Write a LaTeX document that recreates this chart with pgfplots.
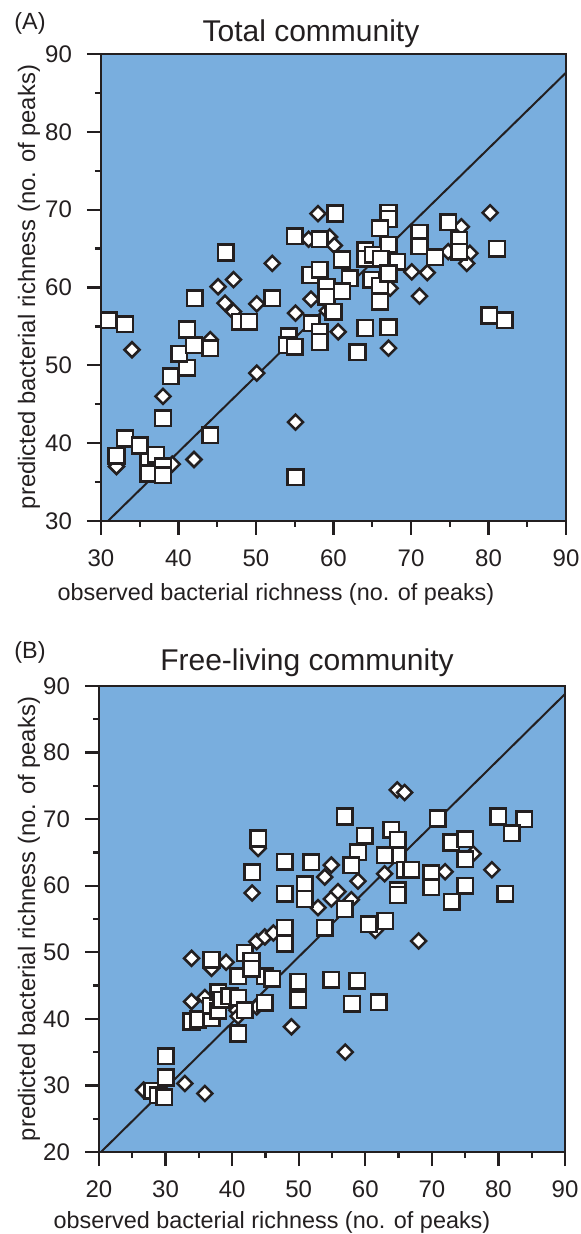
\documentclass[border=0pt]{standalone}
\usepackage{pgfplots}
\pgfplotsset{compat=1.18}
\usepackage{pgfplotstable}
\usepackage{fontspec}
\setmainfont{Liberation Sans}
\definecolor{bgblue}{RGB}{121,174,222}
\definecolor{dk}{RGB}{35,31,32}

\pgfplotstableread{
x y
31.0 55.8
33.1 55.3
32.0 38.4
33.1 40.6
35.0 39.7
36.1 37.6
36.1 36.1
37.1 38.5
38.0 37.0
38.0 35.9
38.0 43.2
39.0 48.6
41.1 49.7
40.1 51.5
42.0 52.6
44.1 52.2
44.1 41.0
55.1 35.6
41.1 54.6
42.1 58.6
46.1 64.5
47.9 55.6
49.1 55.6
52.1 58.6
55.0 66.6
58.2 66.2
60.2 69.5
57.0 61.6
58.2 62.3
57.2 55.4
58.2 54.3
58.2 53.0
59.1 60.1
59.1 58.8
54.2 53.7
54.0 52.6
55.0 52.4
67.1 69.6
67.1 68.8
66.0 67.6
71.1 67.0
71.1 65.3
67.1 65.5
64.1 64.8
64.1 63.7
65.1 64.2
66.1 63.7
68.2 63.3
61.1 63.6
62.1 61.2
61.1 59.5
60.0 56.9
64.9 61.0
66.0 60.2
66.0 58.2
67.1 61.8
73.1 63.9
74.8 68.4
76.2 66.1
76.2 64.6
81.1 65.0
80.1 56.4
82.1 55.8
64.1 54.8
67.1 54.9
63.1 51.7
}\sqA

\pgfplotstableread{
x y
32.0 37.0
34.0 52.0
38.0 46.0
39.2 37.3
42.0 37.9
44.1 53.3
45.1 60.1
47.1 61.0
46.0 58.0
47.1 56.9
50.1 57.9
52.1 63.1
50.1 49.0
55.1 42.7
56.8 66.2
59.5 66.5
60.1 65.4
58.0 69.5
57.1 58.5
55.1 56.7
60.6 54.3
59.2 57.0
67.3 59.9
70.1 62.0
72.1 61.9
76.5 67.8
74.8 64.6
77.6 64.4
77.2 63.1
80.2 69.6
71.1 58.9
67.1 52.2
}\diA

\pgfplotstableread{
x y
28.0 29.2
28.8 28.5
29.8 28.2
30.0 31.2
30.0 34.4
33.9 39.6
34.9 39.9
36.9 40.1
36.8 42.0
37.9 41.2
37.9 44.0
38.4 42.9
39.6 43.4
40.9 43.2
41.9 41.3
44.9 42.4
40.9 37.8
40.9 46.4
44.9 46.4
46.0 46.0
36.9 48.9
41.9 49.9
42.9 48.7
42.9 47.5
47.9 53.7
47.9 51.3
49.9 45.6
49.9 42.9
54.9 45.9
58.8 45.7
58.0 42.3
62.0 42.5
53.9 53.7
60.5 54.2
63.0 54.7
43.9 67.1
43.0 62.0
47.9 63.6
51.9 63.5
47.9 58.8
50.9 60.2
50.9 58.0
56.9 56.5
56.9 70.4
70.9 70.1
80.0 70.4
83.9 70.0
82.0 67.9
59.9 67.5
63.9 68.4
64.9 66.9
64.9 64.6
62.9 64.6
58.9 65.0
57.9 63.1
65.9 62.4
66.9 62.4
69.9 61.9
69.9 59.8
72.9 66.5
75.0 67.0
75.0 64.0
75.0 60.0
81.0 58.8
73.0 57.6
64.9 59.3
64.9 58.6
}\sqB

\pgfplotstableread{
x y
26.7 29.3
32.9 30.3
35.9 28.8
33.9 42.6
35.9 43.2
33.9 49.1
36.9 47.6
39.1 48.5
40.7 41.3
40.9 40.4
43.7 41.8
43.7 51.6
44.9 52.3
46.2 52.9
48.9 38.8
57.0 35.0
61.5 53.3
68.0 51.7
43.9 65.6
54.9 63.1
53.9 61.3
43.0 58.9
54.9 58.0
55.9 59.1
52.9 56.7
57.9 57.9
64.8 74.4
65.9 74.0
58.9 60.7
62.9 61.8
72.0 62.1
76.2 64.8
79.0 62.4
}\diB

\pgfplotsset{
  myaxis/.style={
    scale only axis,
    axis background/.style={fill=bgblue},
    axis line style={line width=1pt, draw=dk},
    tick pos=left,
    tick align=outside,
    major tick length=7pt,
    minor tick length=3pt,
    every tick/.style={line width=1.1pt, draw=dk},
    minor tick num=1,
    tick label style={font=\fontsize{12}{13}\selectfont, text=dk},
    xticklabel style={yshift=-4pt},
    yticklabel style={xshift=-4pt},
    /pgf/number format/assume math mode=true,
    clip=false,
  },
  sqmark/.style={only marks, mark=square*, mark size=3.9pt,
    mark options={fill=white, draw=dk, line width=1.25pt}},
  dimark/.style={only marks, mark=square*, mark size=2.65pt,
    mark options={rotate=45, fill=white, draw=dk, line width=1.25pt}},
}

\begin{document}
\begin{tikzpicture}
\useasboundingbox (0,0) rectangle (290.5pt,-617pt);
% Panel A
\begin{axis}[myaxis,
  at={(50.5pt,-27pt)}, anchor=north west,
  width=232.5pt, height=233.5pt,
  xmin=30, xmax=90, ymin=30, ymax=90,
  xtick={30,40,...,90}, ytick={30,40,...,90},
]
\addplot[dimark] table {\diA};
\addplot[sqmark] table {\sqA};
\addplot[dk, line width=1pt, no marks] coordinates {(30.9,30) (90,87.6)};
\end{axis}
% Panel B
\begin{axis}[myaxis,
  at={(49.5pt,-343pt)}, anchor=north west,
  width=233pt, height=233pt,
  xmin=20, xmax=90, ymin=20, ymax=90,
  xtick={20,30,...,90}, ytick={20,30,...,90},
]
\addplot[dimark] table {\diB};
\addplot[sqmark] table {\sqB};
\addplot[dk, line width=1pt, no marks] coordinates {(20.3,20) (90,88.8)};
\end{axis}
% texts
\node[anchor=base west, font=\fontsize{11.7}{13}\selectfont, text=dk, inner sep=0] at (7pt,-15pt) {(A)};
\node[anchor=base, font=\fontsize{15}{17}\selectfont, text=dk, inner sep=0] at (155.5pt,-21pt) {Total community};
\node[anchor=base, font=\fontsize{11.7}{13}\selectfont, text=dk, inner sep=0] at (138pt,-300pt) {observed bacterial richness (no. of peaks)};
\node[anchor=center, rotate=90, font=\fontsize{11.9}{13}\selectfont, text=dk, inner sep=0] at (14.5pt,-143.5pt) {predicted bacterial richness (no. of peaks)};
\node[anchor=base west, font=\fontsize{11.7}{13}\selectfont, text=dk, inner sep=0] at (7pt,-329pt) {(B)};
\node[anchor=base, font=\fontsize{15}{17}\selectfont, text=dk, inner sep=0] at (153.5pt,-335pt) {Free-living community};
\node[anchor=base, font=\fontsize{11.7}{13}\selectfont, text=dk, inner sep=0] at (136pt,-614pt) {observed bacterial richness (no. of peaks)};
\node[anchor=center, rotate=90, font=\fontsize{11.9}{13}\selectfont, text=dk, inner sep=0] at (14.5pt,-459.5pt) {predicted bacterial richness (no. of peaks)};
\end{tikzpicture}
\end{document}
